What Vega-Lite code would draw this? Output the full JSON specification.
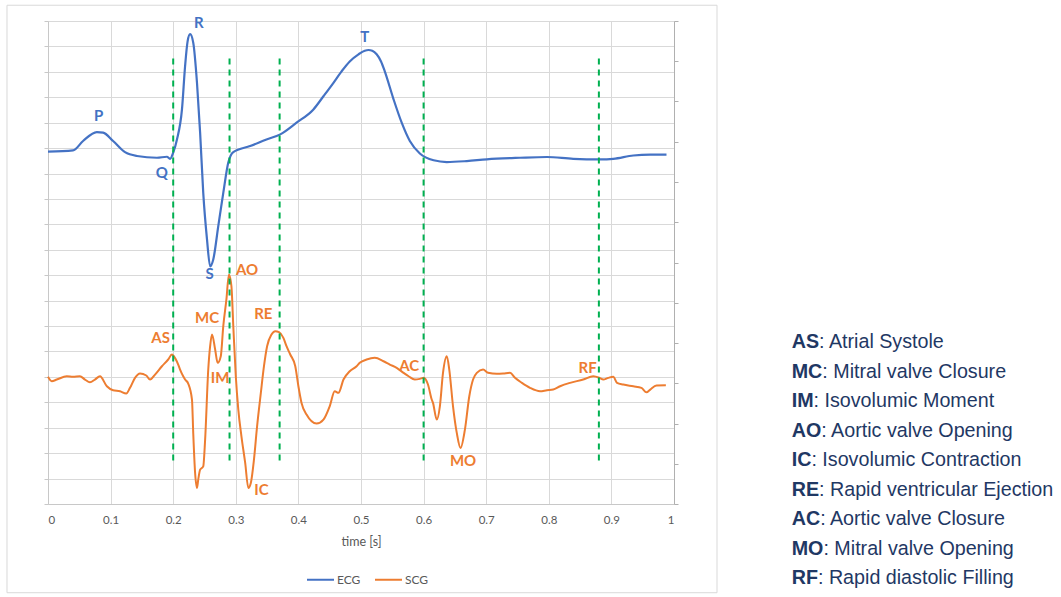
{
  "$schema": "https://vega.github.io/schema/vega-lite/v6.json",
  "width": 626,
  "height": 483,
  "autosize": {"type": "none"},
  "padding": {"left": 48, "top": 21, "right": 387, "bottom": 93},
  "background": "white",
  "config": {"view": {"stroke": null}, "font": "Lato"},
  "datasets": {
    "sig": [
      {"t": 0.000, "v": 13.86, "s": "ECG"}, {"t": 0.040, "v": 13.91, "s": "ECG"}, {"t": 0.056, "v": 14.28, "s": "ECG"},
      {"t": 0.078, "v": 14.63, "s": "ECG"}, {"t": 0.088, "v": 14.61, "s": "ECG"}, {"t": 0.104, "v": 14.28, "s": "ECG"},
      {"t": 0.123, "v": 13.84, "s": "ECG"}, {"t": 0.142, "v": 13.69, "s": "ECG"}, {"t": 0.174, "v": 13.62, "s": "ECG"},
      {"t": 0.190, "v": 13.66, "s": "ECG"}, {"t": 0.195, "v": 13.58, "s": "ECG"}, {"t": 0.200, "v": 13.82, "s": "ECG"},
      {"t": 0.206, "v": 14.34, "s": "ECG"}, {"t": 0.214, "v": 15.52, "s": "ECG"}, {"t": 0.219, "v": 17.23, "s": "ECG"},
      {"t": 0.223, "v": 18.2, "s": "ECG"}, {"t": 0.227, "v": 18.48, "s": "ECG"}, {"t": 0.232, "v": 18.15, "s": "ECG"},
      {"t": 0.238, "v": 16.57, "s": "ECG"}, {"t": 0.243, "v": 14.61, "s": "ECG"}, {"t": 0.248, "v": 12.24, "s": "ECG"},
      {"t": 0.254, "v": 10.41, "s": "ECG"}, {"t": 0.259, "v": 9.35, "s": "ECG"}, {"t": 0.264, "v": 9.62, "s": "ECG"},
      {"t": 0.272, "v": 10.93, "s": "ECG"}, {"t": 0.280, "v": 12.24, "s": "ECG"}, {"t": 0.288, "v": 13.43, "s": "ECG"},
      {"t": 0.296, "v": 13.84, "s": "ECG"}, {"t": 0.323, "v": 14.08, "s": "ECG"}, {"t": 0.349, "v": 14.34, "s": "ECG"},
      {"t": 0.371, "v": 14.54, "s": "ECG"}, {"t": 0.397, "v": 15.00, "s": "ECG"}, {"t": 0.424, "v": 15.52, "s": "ECG"},
      {"t": 0.440, "v": 16.04, "s": "ECG"}, {"t": 0.456, "v": 16.57, "s": "ECG"}, {"t": 0.469, "v": 17.02, "s": "ECG"},
      {"t": 0.482, "v": 17.41, "s": "ECG"}, {"t": 0.496, "v": 17.69, "s": "ECG"}, {"t": 0.506, "v": 17.83, "s": "ECG"},
      {"t": 0.512, "v": 17.86, "s": "ECG"}, {"t": 0.518, "v": 17.83, "s": "ECG"}, {"t": 0.525, "v": 17.69, "s": "ECG"},
      {"t": 0.532, "v": 17.41, "s": "ECG"}, {"t": 0.538, "v": 17.02, "s": "ECG"}, {"t": 0.552, "v": 15.92, "s": "ECG"},
      {"t": 0.565, "v": 15.00, "s": "ECG"}, {"t": 0.578, "v": 14.28, "s": "ECG"}, {"t": 0.594, "v": 13.79, "s": "ECG"},
      {"t": 0.616, "v": 13.52, "s": "ECG"}, {"t": 0.637, "v": 13.45, "s": "ECG"}, {"t": 0.669, "v": 13.49, "s": "ECG"},
      {"t": 0.701, "v": 13.56, "s": "ECG"}, {"t": 0.754, "v": 13.62, "s": "ECG"}, {"t": 0.797, "v": 13.65, "s": "ECG"},
      {"t": 0.839, "v": 13.58, "s": "ECG"}, {"t": 0.882, "v": 13.56, "s": "ECG"}, {"t": 0.903, "v": 13.58, "s": "ECG"},
      {"t": 0.935, "v": 13.71, "s": "ECG"}, {"t": 0.962, "v": 13.74, "s": "ECG"}, {"t": 0.988, "v": 13.74, "s": "ECG"},

      {"t": 0.000, "v": 3.159, "s": "SCG"}, {"t": 0.006, "v": 3.050, "s": "SCG"}, {"t": 0.014, "v": 3.092, "s": "SCG"},
      {"t": 0.030, "v": 3.174, "s": "SCG"}, {"t": 0.040, "v": 3.159, "s": "SCG"}, {"t": 0.051, "v": 3.174, "s": "SCG"},
      {"t": 0.059, "v": 3.092, "s": "SCG"}, {"t": 0.067, "v": 3.025, "s": "SCG"}, {"t": 0.075, "v": 3.092, "s": "SCG"},
      {"t": 0.083, "v": 3.174, "s": "SCG"}, {"t": 0.094, "v": 2.925, "s": "SCG"}, {"t": 0.104, "v": 2.826, "s": "SCG"},
      {"t": 0.115, "v": 2.801, "s": "SCG"}, {"t": 0.125, "v": 2.744, "s": "SCG"}, {"t": 0.131, "v": 2.886, "s": "SCG"},
      {"t": 0.139, "v": 3.134, "s": "SCG"}, {"t": 0.147, "v": 3.241, "s": "SCG"}, {"t": 0.157, "v": 3.192, "s": "SCG"},
      {"t": 0.163, "v": 3.092, "s": "SCG"}, {"t": 0.171, "v": 3.216, "s": "SCG"}, {"t": 0.182, "v": 3.423, "s": "SCG"},
      {"t": 0.192, "v": 3.590, "s": "SCG"}, {"t": 0.198, "v": 3.714, "s": "SCG"}, {"t": 0.200, "v": 3.689, "s": "SCG"},
      {"t": 0.208, "v": 3.465, "s": "SCG"}, {"t": 0.211, "v": 3.341, "s": "SCG"}, {"t": 0.216, "v": 3.174, "s": "SCG"},
      {"t": 0.219, "v": 3.092, "s": "SCG"}, {"t": 0.224, "v": 2.993, "s": "SCG"}, {"t": 0.230, "v": 2.595, "s": "SCG"},
      {"t": 0.232, "v": 1.766, "s": "SCG"}, {"t": 0.235, "v": 0.771, "s": "SCG"}, {"t": 0.238, "v": 0.398, "s": "SCG"},
      {"t": 0.240, "v": 0.604, "s": "SCG"}, {"t": 0.243, "v": 0.853, "s": "SCG"}, {"t": 0.248, "v": 0.935, "s": "SCG"},
      {"t": 0.251, "v": 1.600, "s": "SCG"}, {"t": 0.256, "v": 3.341, "s": "SCG"}, {"t": 0.259, "v": 3.920, "s": "SCG"},
      {"t": 0.262, "v": 4.211, "s": "SCG"}, {"t": 0.267, "v": 3.838, "s": "SCG"}, {"t": 0.271, "v": 3.507, "s": "SCG"},
      {"t": 0.276, "v": 3.672, "s": "SCG"}, {"t": 0.280, "v": 4.418, "s": "SCG"}, {"t": 0.285, "v": 5.082, "s": "SCG"},
      {"t": 0.289, "v": 5.704, "s": "SCG"}, {"t": 0.293, "v": 5.413, "s": "SCG"}, {"t": 0.296, "v": 4.418, "s": "SCG"},
      {"t": 0.300, "v": 3.174, "s": "SCG"}, {"t": 0.304, "v": 2.346, "s": "SCG"}, {"t": 0.309, "v": 1.682, "s": "SCG"},
      {"t": 0.315, "v": 1.020, "s": "SCG"}, {"t": 0.320, "v": 0.398, "s": "SCG"}, {"t": 0.324, "v": 0.522, "s": "SCG"},
      {"t": 0.329, "v": 1.102, "s": "SCG"}, {"t": 0.334, "v": 1.930, "s": "SCG"}, {"t": 0.340, "v": 2.761, "s": "SCG"},
      {"t": 0.345, "v": 3.423, "s": "SCG"}, {"t": 0.350, "v": 3.920, "s": "SCG"}, {"t": 0.357, "v": 4.211, "s": "SCG"},
      {"t": 0.363, "v": 4.294, "s": "SCG"}, {"t": 0.369, "v": 4.269, "s": "SCG"}, {"t": 0.376, "v": 4.129, "s": "SCG"},
      {"t": 0.381, "v": 3.920, "s": "SCG"}, {"t": 0.387, "v": 3.714, "s": "SCG"}, {"t": 0.395, "v": 3.423, "s": "SCG"},
      {"t": 0.400, "v": 2.925, "s": "SCG"}, {"t": 0.405, "v": 2.512, "s": "SCG"}, {"t": 0.413, "v": 2.221, "s": "SCG"},
      {"t": 0.429, "v": 1.998, "s": "SCG"}, {"t": 0.440, "v": 2.097, "s": "SCG"}, {"t": 0.450, "v": 2.428, "s": "SCG"},
      {"t": 0.458, "v": 2.801, "s": "SCG"}, {"t": 0.464, "v": 2.761, "s": "SCG"}, {"t": 0.472, "v": 3.092, "s": "SCG"},
      {"t": 0.482, "v": 3.299, "s": "SCG"}, {"t": 0.493, "v": 3.423, "s": "SCG"}, {"t": 0.498, "v": 3.507, "s": "SCG"},
      {"t": 0.509, "v": 3.590, "s": "SCG"}, {"t": 0.522, "v": 3.632, "s": "SCG"}, {"t": 0.536, "v": 3.547, "s": "SCG"},
      {"t": 0.546, "v": 3.465, "s": "SCG"}, {"t": 0.557, "v": 3.383, "s": "SCG"}, {"t": 0.568, "v": 3.259, "s": "SCG"},
      {"t": 0.576, "v": 3.174, "s": "SCG"}, {"t": 0.586, "v": 3.092, "s": "SCG"}, {"t": 0.594, "v": 3.109, "s": "SCG"},
      {"t": 0.600, "v": 3.134, "s": "SCG"}, {"t": 0.607, "v": 2.968, "s": "SCG"}, {"t": 0.613, "v": 2.595, "s": "SCG"},
      {"t": 0.615, "v": 2.512, "s": "SCG"}, {"t": 0.621, "v": 2.097, "s": "SCG"}, {"t": 0.626, "v": 2.428, "s": "SCG"},
      {"t": 0.631, "v": 3.259, "s": "SCG"}, {"t": 0.637, "v": 3.672, "s": "SCG"}, {"t": 0.641, "v": 3.341, "s": "SCG"},
      {"t": 0.647, "v": 2.428, "s": "SCG"}, {"t": 0.653, "v": 1.766, "s": "SCG"}, {"t": 0.659, "v": 1.393, "s": "SCG"},
      {"t": 0.666, "v": 1.848, "s": "SCG"}, {"t": 0.673, "v": 2.677, "s": "SCG"}, {"t": 0.679, "v": 3.092, "s": "SCG"},
      {"t": 0.685, "v": 3.259, "s": "SCG"}, {"t": 0.695, "v": 3.341, "s": "SCG"}, {"t": 0.703, "v": 3.259, "s": "SCG"},
      {"t": 0.717, "v": 3.234, "s": "SCG"}, {"t": 0.727, "v": 3.241, "s": "SCG"}, {"t": 0.738, "v": 3.259, "s": "SCG"},
      {"t": 0.746, "v": 3.134, "s": "SCG"}, {"t": 0.757, "v": 3.010, "s": "SCG"}, {"t": 0.770, "v": 2.886, "s": "SCG"},
      {"t": 0.786, "v": 2.801, "s": "SCG"}, {"t": 0.797, "v": 2.826, "s": "SCG"}, {"t": 0.807, "v": 2.843, "s": "SCG"},
      {"t": 0.818, "v": 2.925, "s": "SCG"}, {"t": 0.834, "v": 3.010, "s": "SCG"}, {"t": 0.855, "v": 3.092, "s": "SCG"},
      {"t": 0.871, "v": 3.174, "s": "SCG"}, {"t": 0.881, "v": 3.134, "s": "SCG"}, {"t": 0.887, "v": 3.092, "s": "SCG"},
      {"t": 0.895, "v": 3.134, "s": "SCG"}, {"t": 0.903, "v": 3.159, "s": "SCG"}, {"t": 0.909, "v": 3.010, "s": "SCG"},
      {"t": 0.919, "v": 2.968, "s": "SCG"}, {"t": 0.935, "v": 2.925, "s": "SCG"}, {"t": 0.948, "v": 2.886, "s": "SCG"},
      {"t": 0.956, "v": 2.776, "s": "SCG"}, {"t": 0.962, "v": 2.843, "s": "SCG"}, {"t": 0.972, "v": 2.943, "s": "SCG"},
      {"t": 0.987, "v": 2.950, "s": "SCG"}
    ],
    "events": [{"t": 0.2}, {"t": 0.29}, {"t": 0.37}, {"t": 0.6}, {"t": 0.88}],
    "ecgLabels": [
      {"t": 0.081, "v": 15.25, "label": "P"},
      {"t": 0.182, "v": 13.03, "label": "Q"},
      {"t": 0.241, "v": 18.94, "label": "R"},
      {"t": 0.258, "v": 9.03, "label": "S"},
      {"t": 0.506, "v": 18.39, "label": "T"}
    ],
    "scgLabels": [
      {"t": 0.180, "v": 4.13, "label": "AS"},
      {"t": 0.254, "v": 4.63, "label": "MC"},
      {"t": 0.275, "v": 3.13, "label": "IM"},
      {"t": 0.318, "v": 5.81, "label": "AO"},
      {"t": 0.344, "v": 4.71, "label": "RE"},
      {"t": 0.341, "v": 0.34, "label": "IC"},
      {"t": 0.577, "v": 3.44, "label": "AC"},
      {"t": 0.663, "v": 1.06, "label": "MO"},
      {"t": 0.862, "v": 3.38, "label": "RF"}
    ],
    "notes": [
      {"row": 1, "abbr": "AS", "desc": ": Atrial Systole"},
      {"row": 2, "abbr": "MC", "desc": ": Mitral valve Closure"},
      {"row": 3, "abbr": "IM", "desc": ": Isovolumic Moment"},
      {"row": 4, "abbr": "AO", "desc": ": Aortic valve Opening"},
      {"row": 5, "abbr": "IC", "desc": ": Isovolumic Contraction"},
      {"row": 6, "abbr": "RE", "desc": ": Rapid ventricular Ejection"},
      {"row": 7, "abbr": "AC", "desc": ": Aortic valve Closure"},
      {"row": 8, "abbr": "MO", "desc": ": Mitral valve Opening"},
      {"row": 9, "abbr": "RF", "desc": ": Rapid diastolic Filling"}
    ]
  },
  "layer": [
    {
      "data": {"name": "sig"},
      "transform": [{"filter": "datum.s === 'ECG'"}],
      "mark": {"type": "line", "strokeWidth": 2.2, "interpolate": "monotone"},
      "encoding": {
        "x": {
          "field": "t", "type": "quantitative",
          "scale": {"domain": [0, 1], "nice": false, "zero": false},
          "axis": {
            "title": "time [s]", "values": [0, 0.1, 0.2, 0.3, 0.4, 0.5, 0.6, 0.7, 0.8, 0.9, 1],
            "format": "~g", "grid": true, "gridColor": "#d9d9d9", "gridWidth": 1,
            "ticks": false, "domainColor": "#c8c8c8", "domainWidth": 1,
            "labelFont": "Lato", "labelFontSize": 11.5, "labelColor": "#595959", "labelPadding": 10,
            "titleFont": "Lato", "titleFontSize": 12.5, "titleFontWeight": "normal", "titleColor": "#595959", "titlePadding": 10
          }
        },
        "y": {
          "field": "v", "type": "quantitative",
          "scale": {"domain": [0, 19], "nice": false, "zero": false},
          "axis": {
            "orient": "left", "title": null, "labels": false,
            "values": [0, 1, 2, 3, 4, 5, 6, 7, 8, 9, 10, 11, 12, 13, 14, 15, 16, 17, 18, 19],
            "grid": true, "gridColor": "#d9d9d9", "gridWidth": 1,
            "domainColor": "#c8c8c8", "tickColor": "#c8c8c8", "tickSize": 4
          }
        },
        "color": {
          "field": "s", "type": "nominal",
          "scale": {"domain": ["ECG", "SCG"], "range": ["#4472C4", "#ED7D31"]},
          "legend": {
            "orient": "none", "legendX": 258, "legendY": 544, "direction": "horizontal", "title": null,
            "symbolType": "stroke", "symbolSize": 729, "symbolStrokeWidth": 2,
            "labelFont": "Lato", "labelFontSize": 12, "labelColor": "#595959", "labelOffset": 2, "columnPadding": 10
          }
        }
      }
    },
    {
      "data": {"name": "sig"},
      "transform": [{"filter": "datum.s === 'SCG'"}],
      "mark": {"type": "line", "strokeWidth": 2, "interpolate": "monotone"},
      "encoding": {
        "x": {"field": "t", "type": "quantitative"},
        "y": {
          "field": "v", "type": "quantitative",
          "scale": {"domain": [0, 12], "nice": false, "zero": false},
          "axis": {
            "orient": "right", "title": null, "labels": false,
            "values": [0, 1, 2, 3, 4, 5, 6, 7, 8, 9, 10, 11, 12],
            "grid": false, "domainColor": "#b0b0b0", "tickColor": "#b0b0b0", "tickSize": 4
          }
        },
        "color": {"field": "s", "type": "nominal", "scale": {"domain": ["ECG", "SCG"], "range": ["#4472C4", "#ED7D31"]}}
      }
    },
    {
      "data": {"values": [{"frame": "chart"}]},
      "mark": {"type": "rect", "filled": false, "stroke": "#d9d9d9", "strokeWidth": 1},
      "encoding": {
        "x": {"datum": -0.0655, "type": "quantitative"},
        "x2": {"datum": 1.0687},
        "y": {"datum": 19.62, "type": "quantitative", "scale": {"domain": [0, 19], "nice": false, "zero": false}, "axis": null},
        "y2": {"datum": -3.49}
      }
    },
    {
      "data": {"name": "events"},
      "mark": {"type": "rule", "color": "#00B050", "strokeWidth": 2, "strokeDash": [6, 5]},
      "encoding": {
        "x": {"field": "t", "type": "quantitative"},
        "y": {"datum": 17.52, "type": "quantitative", "scale": {"domain": [0, 19], "nice": false, "zero": false}, "axis": null},
        "y2": {"datum": 1.68}
      }
    },
    {
      "data": {"name": "ecgLabels"},
      "mark": {"type": "text", "color": "#4472C4", "font": "Lato", "fontSize": 15, "fontWeight": "bold", "align": "center", "baseline": "middle"},
      "encoding": {
        "x": {"field": "t", "type": "quantitative"},
        "y": {"field": "v", "type": "quantitative", "scale": {"domain": [0, 19], "nice": false, "zero": false}, "axis": null},
        "text": {"field": "label"}
      }
    },
    {
      "data": {"name": "scgLabels"},
      "mark": {"type": "text", "color": "#ED7D31", "font": "Lato", "fontSize": 15, "fontWeight": "bold", "align": "center", "baseline": "middle"},
      "encoding": {
        "x": {"field": "t", "type": "quantitative"},
        "y": {"field": "v", "type": "quantitative", "scale": {"domain": [0, 12], "nice": false, "zero": false}, "axis": null},
        "text": {"field": "label"}
      }
    },
    {
      "data": {"name": "notes"},
      "mark": {"type": "text", "align": "left", "baseline": "middle", "font": "Liberation Sans", "fontSize": 19.7, "fontWeight": "bold", "color": "#1F3864"},
      "encoding": {
        "x": {"datum": 1.188, "type": "quantitative"},
        "y": {"field": "row", "type": "quantitative", "scale": {"domain": [-9.89, 6.48], "reverse": true, "nice": false, "zero": false}, "axis": null},
        "text": {"field": "abbr"}
      }
    },
    {
      "data": {"name": "notes"},
      "mark": {
        "type": "text", "align": "left", "baseline": "middle", "font": "Liberation Sans", "fontSize": 19.7, "color": "#1F3864",
        "dx": {"expr": "19.7 * ({'AS': 1.389, 'MC': 1.555, 'IM': 1.111, 'AO': 1.5, 'IC': 1.0, 'RE': 1.389, 'AC': 1.444, 'MO': 1.611, 'RF': 1.333})[datum.abbr]"}
      },
      "encoding": {
        "x": {"datum": 1.188, "type": "quantitative"},
        "y": {"field": "row", "type": "quantitative", "scale": {"domain": [-9.89, 6.48], "reverse": true, "nice": false, "zero": false}, "axis": null},
        "text": {"field": "desc"}
      }
    }
  ],
  "resolve": {"scale": {"y": "independent"}}
}
